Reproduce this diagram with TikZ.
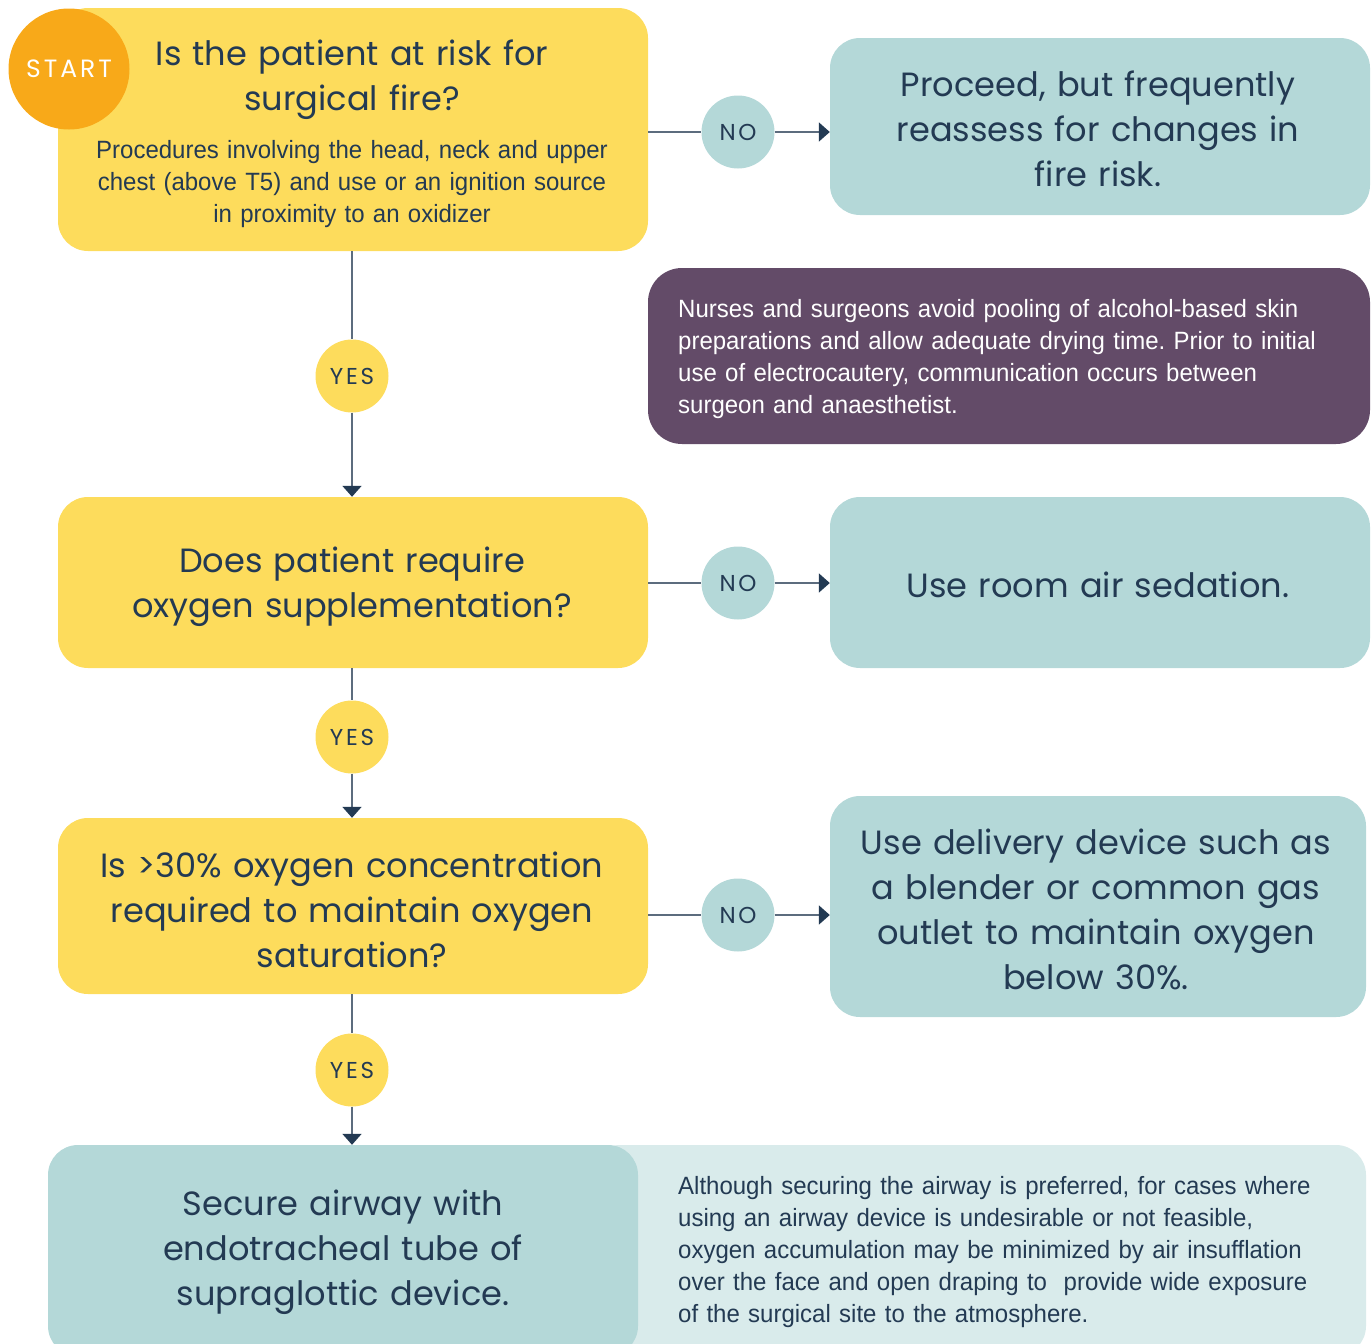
\documentclass[tikz,border=0pt]{standalone}
\usepackage{fontspec}
\usetikzlibrary{arrows.meta,calc}
\newfontfamily\hfont{Poppins}
\newfontfamily\lfont[LetterSpace=12]{Poppins}
\newfontfamily\sfont[FakeStretch=0.96]{Liberation Sans}
\definecolor{cyel}{HTML}{FDDC5C}
\definecolor{corange}{HTML}{F8A919}
\definecolor{cteal}{HTML}{B4D8D8}
\definecolor{clight}{HTML}{D9EBEB}
\definecolor{cpurple}{HTML}{634B68}
\definecolor{cnavy}{HTML}{233A53}
\definecolor{cline}{HTML}{5C6C7E}
\frenchspacing
\tikzset{
  box/.style={rounded corners=30, inner sep=0, align=center},
  yelbox/.style={box, fill=cyel},
  tealbox/.style={box, fill=cteal},
  headtxt/.style={text=cnavy, align=center, inner sep=0, font=\hfont\fontsize{33.6}{45}\selectfont},
  smalltxt/.style={text=cnavy, inner sep=0, font=\sfont\frenchspacing\fontsize{25}{32}\selectfont},
  yesc/.style={circle, fill=cyel, minimum size=73, inner sep=0, text=cnavy, font=\lfont\fontsize{23}{23}\selectfont},
  noc/.style={circle, fill=cteal, minimum size=73, inner sep=0, text=cnavy, font=\lfont\fontsize{23}{23}\selectfont},
  conn/.style={draw=cline, line width=2},
  arr/.style={conn, -{Triangle[width=19,length=11,fill=cnavy,color=cnavy]}},
}
\begin{document}
\begin{tikzpicture}[x=1pt,y=-1pt]
\useasboundingbox (0,0) rectangle (1371,1344);
\clip (0,0) rectangle (1371,1344);
% boxes
\node[yelbox, minimum width=590, minimum height=243] (box1) at (353,129.5) {};
\node[tealbox, minimum width=540, minimum height=177] (r1) at (1100,126.5) {};
\node[box, fill=cpurple, rounded corners=34, minimum width=722, minimum height=176] (note1) at (1009,356) {};
\node[yelbox, minimum width=590, minimum height=171] (box2) at (353,582.5) {};
\node[tealbox, minimum width=540, minimum height=171] (r2) at (1100,582.5) {};
\node[yelbox, minimum width=590, minimum height=176] (box3) at (353,906) {};
\node[tealbox, minimum width=536, minimum height=221] (r3) at (1098,906.5) {};
\node[box, fill=clight, minimum width=776, minimum height=211] (note2) at (978,1250.5) {};
\node[tealbox, minimum width=590, minimum height=211] (box4) at (343,1250.5) {};
% start circle
\node[circle, fill=corange, minimum size=121, inner sep=0, text=white, font=\lfont\fontsize{25}{25}\selectfont] (start) at (69,69) {START};
% texts
\node[headtxt, text width=560] (t1) at (352,80) {Is the patient at risk for\par surgical fire?};
\node[smalltxt, text width=580, align=center] (s1) at (352,184) {Procedures involving the head, neck and upper\par chest (above T5) and use or an ignition source\par in proximity to an oxidizer};
\node[headtxt, text width=500] (tr1) at (1098,129) {Proceed, but frequently\par reassess for changes in\par fire risk.};
\node[smalltxt, text=white, text width=690, align=left, anchor=west] (tn1) at (678,359) {Nurses and surgeons avoid pooling of alcohol-based skin\par preparations and allow adequate drying time. Prior to initial\par use of electrocautery, communication occurs between\par surgeon and anaesthetist.};
\node[headtxt, text width=560] (t2) at (352,587) {Does patient require\par oxygen supplementation?};
\node[headtxt, text width=500] (tr2) at (1098,585) {Use room air sedation.};
\node[headtxt, text width=580] (t3) at (352,910) {Is >30\% oxygen concentration\par required to maintain oxygen\par saturation?};
\node[headtxt, text width=520] (tr3) at (1096,909) {Use delivery device such as\par a blender or common gas\par outlet to maintain oxygen\par below 30\%.};
\node[headtxt, text width=560] (t4) at (343,1252) {Secure airway with\par endotracheal tube of\par supraglottic device.};
\node[smalltxt, text width=690, align=left, anchor=west] (tn2) at (678,1252) {Although securing the airway is preferred, for cases where\par using an airway device is undesirable or not feasible,\par oxygen accumulation may be minimized by air insufflation\par over the face and open draping to\ \ provide wide exposure\par of the surgical site to the atmosphere.};
% circles
\node[noc] (no1) at (738,132) {NO};
\node[noc] (no2) at (738,583) {NO};
\node[noc] (no3) at (738,915) {NO};
\node[yesc] (yes1) at (352,376) {YES};
\node[yesc] (yes2) at (352,737) {YES};
\node[yesc] (yes3) at (352,1070) {YES};
% connectors
\draw[conn] (box1.south -| yes1) -- (yes1);
\draw[arr] (yes1) -- (yes1 |- box2.north);
\draw[conn] (box2.south -| yes2) -- (yes2);
\draw[arr] (yes2) -- (yes2 |- box3.north);
\draw[conn] (box3.south -| yes3) -- (yes3);
\draw[arr] (yes3) -- (yes3 |- box4.north);
\draw[conn] (box1.east |- no1) -- (no1);
\draw[arr] (no1) -- (r1.west |- no1);
\draw[conn] (box2.east |- no2) -- (no2);
\draw[arr] (no2) -- (r2.west |- no2);
\draw[conn] (box3.east |- no3) -- (no3);
\draw[arr] (no3) -- (r3.west |- no3);
\end{tikzpicture}
\end{document}
